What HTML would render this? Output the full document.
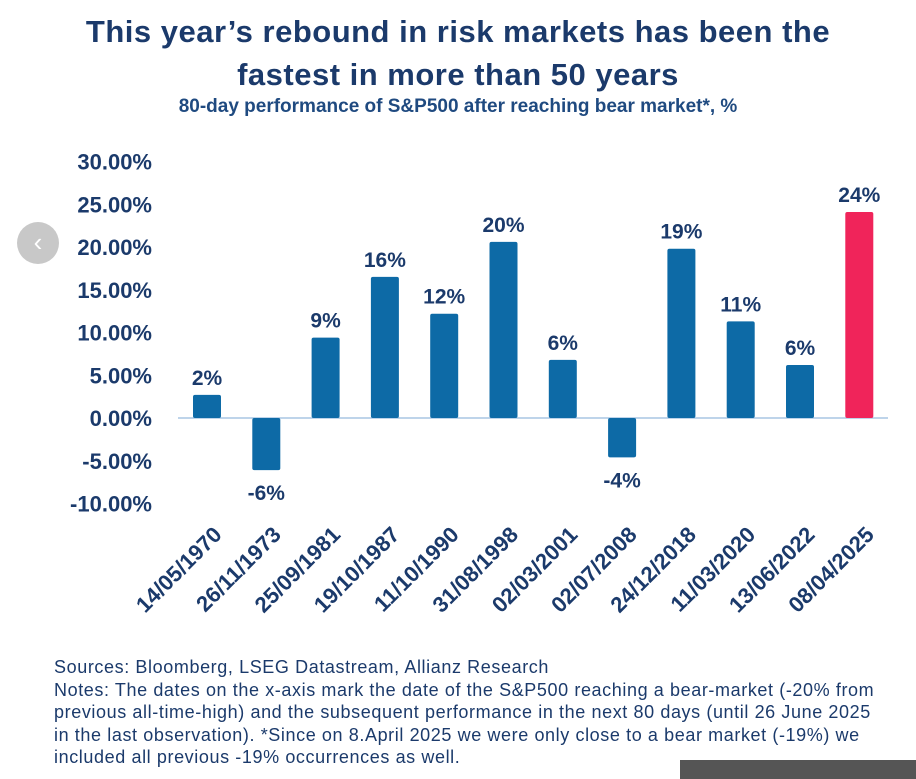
<!DOCTYPE html>
<html><head><meta charset="utf-8"><style>
body{margin:0;width:916px;height:779px;background:#fff;overflow:hidden;font-family:"Liberation Sans",sans-serif;position:relative}
.t{position:absolute;left:0;width:916px;text-align:center;color:#1b3a6b}
</style></head><body>
<div class="t" style="top:10px;font-size:31px;line-height:43px;font-weight:bold;letter-spacing:0.5px">This year’s rebound in risk markets has been the<br>fastest in more than 50 years</div>
<div class="t" style="top:96px;font-size:19px;font-weight:bold;color:#1f4a80">80-day performance of S&amp;P500 after reaching bear market*, %</div>
<svg id="c" width="916" height="779" style="position:absolute;left:0;top:0"></svg>
<div style="position:absolute;left:17px;top:222px;width:42px;height:42px;border-radius:50%;background:#c8c8c8;color:#fff;font-size:26px;text-align:center;line-height:40px">‹</div>
<div style="position:absolute;left:54px;top:656px;width:870px;font-size:18px;letter-spacing:0.6px;line-height:22.5px;color:#1b3a6b;white-space:nowrap">Sources: Bloomberg, LSEG Datastream, Allianz Research<br>Notes: The dates on the x-axis mark the date of the S&amp;P500 reaching a bear-market (-20% from<br>previous all-time-high) and the subsequent performance in the next 80 days (until 26 June 2025<br>in the last observation). *Since on 8.April 2025 we were only close to a bear market (-19%) we<br>included all previous -19% occurrences as well.</div>
<div style="position:absolute;left:680px;top:760px;width:236px;height:19px;background:#555"></div>
<script>
const categories=["14/05/1970","26/11/1973","25/09/1981","19/10/1987","11/10/1990","31/08/1998","02/03/2001","02/07/2008","24/12/2018","11/03/2020","13/06/2022","08/04/2025"];
const values=[2.7,-6.1,9.4,16.5,12.2,20.6,6.8,-4.6,19.8,11.3,6.2,24.1];
const labels=["2%","-6%","9%","16%","12%","20%","6%","-4%","19%","11%","6%","24%"];
const ticks=[30,25,20,15,10,5,0,-5,-10];
const ns="http://www.w3.org/2000/svg",svg=document.getElementById('c');
const y=v=>418-v*8.55, x=i=>207+i*59.3;
function mk(t,a,txt){const e=document.createElementNS(ns,t);for(const k in a)e.setAttribute(k,a[k]);if(txt!=null)e.textContent=txt;svg.appendChild(e);return e;}
ticks.forEach(t=>{const e=mk('text',{x:152,y:y(t)+8,'text-anchor':'end','font-size':22,'font-weight':'bold',fill:'#1b3a6b'},t.toFixed(2)+'%');

});
const ax=mk('line',{x1:178,x2:888,y1:418,y2:418,stroke:'#a9c6e3','stroke-width':1.5});


categories.forEach((c,i)=>{
 const v=values[i],cx=x(i);
 const r=mk('rect',{x:cx-14,y:Math.min(y(v),y(0)),width:28,height:Math.abs(y(v)-y(0)),fill:i==11?'#f0245a':'#0d6aa6',rx:2});
 
 
 const ly=v>=0?y(v)-10:y(v)+30;
 const l=mk('text',{x:cx,y:ly,'text-anchor':'middle','font-size':21,'font-weight':'bold',fill:'#1b3a6b'},labels[i]);
 
 
 const k=mk('text',{x:cx+16,y:536,'text-anchor':'end','font-size':22,'font-weight':'bold',fill:'#1b3a6b',transform:`rotate(-45 ${cx+16} 536)`},c);
 
 
});
</script>
</body></html>
